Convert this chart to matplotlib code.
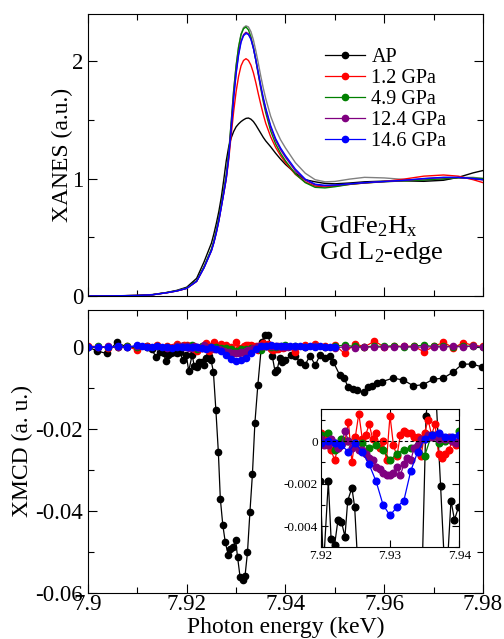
"""
XANES / XMCD at the Gd L2-edge of GdFe2Hx under pressure
"""
import matplotlib
matplotlib.use("Agg")
import matplotlib.pyplot as plt
from matplotlib.ticker import MultipleLocator, FormatStrFormatter

plt.rcParams['font.family'] = ['Liberation Serif', 'DejaVu Serif']
plt.rcParams['mathtext.fontset'] = 'custom'
plt.rcParams['mathtext.rm'] = 'Liberation Serif'
plt.rcParams['mathtext.default'] = 'regular'
plt.rcParams['axes.unicode_minus'] = False

# ---- XANES (top) ----
xanes_e = [7.900, 7.905, 7.910, 7.913, 7.916, 7.918, 7.920, 7.922, 7.9235, 7.925,
           7.9255, 7.926, 7.9265, 7.927, 7.9275, 7.928, 7.9285, 7.929, 7.9295, 7.930,
           7.9305, 7.931, 7.9315, 7.932, 7.9325, 7.933, 7.9335, 7.934, 7.9345, 7.935,
           7.9355, 7.936, 7.937, 7.938, 7.939, 7.940, 7.942, 7.944, 7.946, 7.948,
           7.950, 7.953, 7.956, 7.960, 7.964, 7.968, 7.972, 7.975, 7.978, 7.980]
xanes_ap = [0.000, 0.001, 0.005, 0.012, 0.030, 0.048, 0.075, 0.150, 0.290, 0.450,
            0.530, 0.620, 0.720, 0.840, 0.990, 1.150, 1.270, 1.345, 1.400, 1.440,
            1.465, 1.485, 1.500, 1.512, 1.515, 1.505, 1.485, 1.455, 1.420, 1.385,
            1.350, 1.320, 1.270, 1.215, 1.165, 1.120, 1.045, 0.990, 0.972, 0.958,
            0.955, 0.962, 0.972, 0.978, 0.980, 0.976, 0.985, 1.010, 1.048, 1.068]
xanes_p12 = [0.000, 0.001, 0.004, 0.010, 0.028, 0.043, 0.065, 0.125, 0.245, 0.390,
             0.460, 0.545, 0.645, 0.760, 0.875, 0.995, 1.160, 1.370, 1.570, 1.740,
             1.870, 1.960, 2.005, 2.020, 2.005, 1.965, 1.900, 1.815, 1.720, 1.630,
             1.545, 1.470, 1.355, 1.265, 1.195, 1.135, 1.035, 0.970, 0.935, 0.928,
             0.935, 0.950, 0.962, 0.975, 0.995, 1.020, 1.030, 1.020, 0.990, 0.965]
xanes_p49 = [0.000, 0.001, 0.004, 0.010, 0.030, 0.045, 0.068, 0.130, 0.250, 0.400,
             0.470, 0.560, 0.660, 0.780, 0.900, 1.030, 1.220, 1.480, 1.750, 1.960,
             2.120, 2.225, 2.275, 2.290, 2.265, 2.205, 2.115, 2.005, 1.885, 1.765,
             1.655, 1.560, 1.405, 1.295, 1.215, 1.150, 1.040, 0.965, 0.925, 0.920,
             0.930, 0.950, 0.962, 0.972, 0.980, 0.988, 0.998, 1.005, 1.003, 1.000]
xanes_p124 = [0.000, 0.001, 0.004, 0.010, 0.028, 0.043, 0.065, 0.125, 0.240, 0.385,
              0.455, 0.540, 0.640, 0.760, 0.880, 1.005, 1.190, 1.440, 1.700, 1.905,
              2.065, 2.170, 2.225, 2.245, 2.232, 2.190, 2.110, 2.005, 1.890, 1.780,
              1.675, 1.585, 1.435, 1.325, 1.245, 1.180, 1.065, 0.985, 0.945, 0.937,
              0.942, 0.953, 0.963, 0.973, 0.983, 0.998, 1.008, 1.008, 0.998, 0.988]
xanes_p146 = [0.000, 0.001, 0.004, 0.010, 0.028, 0.043, 0.065, 0.125, 0.240, 0.385,
              0.455, 0.540, 0.640, 0.755, 0.875, 1.000, 1.180, 1.420, 1.680, 1.890,
              2.050, 2.160, 2.215, 2.235, 2.225, 2.185, 2.110, 2.010, 1.900, 1.790,
              1.690, 1.600, 1.450, 1.340, 1.260, 1.195, 1.080, 0.995, 0.952, 0.942,
              0.945, 0.955, 0.965, 0.975, 0.985, 1.000, 1.010, 1.010, 1.000, 0.990]
xanes_grey = [0.000, 0.001, 0.004, 0.010, 0.028, 0.043, 0.065, 0.125, 0.245, 0.395,
              0.465, 0.555, 0.655, 0.775, 0.895, 1.020, 1.210, 1.470, 1.740, 1.960,
              2.120, 2.230, 2.285, 2.300, 2.290, 2.250, 2.180, 2.085, 1.980, 1.870,
              1.770, 1.680, 1.530, 1.420, 1.330, 1.260, 1.135, 1.045, 0.990, 0.972,
              0.975, 0.995, 1.010, 1.005, 0.992, 0.985, 0.992, 1.008, 1.010, 1.000]

# ---- XMCD (bottom) ----
xmcd_ap_e = [7.9000, 7.9018, 7.9038, 7.9058, 7.9078, 7.9099, 7.9119, 7.9129, 7.9138, 7.9146,
             7.9153, 7.9158, 7.9163, 7.9169, 7.9175, 7.9180, 7.9186, 7.9192, 7.9199, 7.9204,
             7.9211, 7.9215, 7.9220, 7.9225, 7.9230, 7.9235, 7.9239, 7.9245, 7.9249, 7.9254,
             7.9259, 7.9264, 7.9268, 7.9273, 7.9278, 7.9284, 7.9288, 7.9293, 7.9299, 7.9303,
             7.9308, 7.9313, 7.9318, 7.9323, 7.9328, 7.9333, 7.9338, 7.9344, 7.9352, 7.9358,
             7.9365, 7.9373, 7.9379, 7.9383, 7.9388, 7.9393, 7.9399, 7.9412, 7.9419, 7.9429,
             7.9440, 7.9450, 7.9460, 7.9470, 7.9480, 7.9490, 7.9497, 7.9510, 7.9519, 7.9527,
             7.9537, 7.9545, 7.9558, 7.9568, 7.9575, 7.9585, 7.9595, 7.9618, 7.9639, 7.9659,
             7.9679, 7.9699, 7.9720, 7.9740, 7.9758, 7.9778, 7.9799]
xmcd_ap = [0.0000, -0.0010, -0.0016, 0.0011, 0.0000, -0.0002, 0.0001, -0.0006, -0.0025, -0.0012,
           -0.0016, -0.0035, -0.0020, -0.0016, -0.0012, -0.0015, -0.0012, -0.0032, -0.0019, -0.0059,
           -0.0019, -0.0046, -0.0049, -0.0037, -0.0038, -0.0045, -0.0028, -0.0022, -0.0031, -0.0061,
           -0.0154, -0.0256, -0.0370, -0.0434, -0.0476, -0.0507, -0.0493, -0.0489, -0.0472, -0.0513,
           -0.0561, -0.0569, -0.0559, -0.0501, -0.0402, -0.0311, -0.0186, -0.0093, 0.0012, 0.0030,
           0.0030, -0.0021, -0.0061, -0.0057, -0.0028, -0.0037, -0.0031, -0.0020, -0.0021, -0.0037,
           -0.0043, -0.0021, -0.0045, -0.0020, -0.0028, -0.0021, -0.0037, -0.0069, -0.0077, -0.0098,
           -0.0103, -0.0106, -0.0111, -0.0098, -0.0095, -0.0089, -0.0085, -0.0076, -0.0081, -0.0095,
           -0.0092, -0.0079, -0.0076, -0.0061, -0.0042, -0.0042, -0.0049]

xmcd_p12_e = [7.900, 7.902, 7.904, 7.906, 7.908, 7.910, 7.912, 7.914, 7.916, 7.918,
              7.9190, 7.9195, 7.9200, 7.9205, 7.9210, 7.9215, 7.9220, 7.9225, 7.9230, 7.9235,
              7.9240, 7.9245, 7.9250, 7.9255, 7.9260, 7.9265, 7.9270, 7.9275, 7.9280, 7.9285,
              7.9290, 7.9295, 7.9300, 7.9305, 7.9310, 7.9315, 7.9320, 7.9325, 7.9330, 7.9335,
              7.9340, 7.9345, 7.9350, 7.9355, 7.9360, 7.9365, 7.9370, 7.9375, 7.9380, 7.9385,
              7.9390, 7.9395, 7.9400, 7.942, 7.944, 7.946, 7.948, 7.950, 7.952, 7.954,
              7.956, 7.958, 7.960, 7.962, 7.964, 7.966, 7.968, 7.970, 7.972, 7.974,
              7.976, 7.978, 7.980]
xmcd_p12 = [0.0003, 0.0000, -0.0002, 0.0000, 0.0001, -0.0008, 0.0002, 0.0004, 0.0003, 0.0008,
            0.0002, 0.0004, 0.0004, 0.0001, 0.0000, -0.0004, -0.0009, -0.0003, -0.0002, 0.0000,
            0.0009, -0.0010, 0.0002, 0.0013, 0.0001, 0.0003, 0.0008, 0.0001, 0.0004, -0.0003,
            0.0000, -0.0009, 0.0012, -0.0002, -0.0007, 0.0003, 0.0005, 0.0004, 0.0004, 0.0002,
            0.0002, -0.0007, 0.0004, 0.0010, 0.0003, 0.0008, -0.0006, -0.0008, -0.0006, -0.0004,
            0.0000, -0.0002, 0.0000, -0.0012, 0.0004, 0.0006, 0.0002, 0.0004, -0.0016, 0.0008,
            0.0000, 0.0014, 0.0000, 0.0002, 0.0001, 0.0002, -0.0012, 0.0001, 0.0011, -0.0002,
            0.0010, 0.0004, 0.0001]

xmcd_p49_e = [7.900, 7.902, 7.904, 7.906, 7.908, 7.910, 7.912, 7.914, 7.916, 7.918,
              7.919, 7.920, 7.921, 7.922, 7.923, 7.924, 7.925, 7.926, 7.927, 7.928,
              7.929, 7.930, 7.931, 7.932, 7.933, 7.934, 7.935, 7.936, 7.937, 7.938,
              7.939, 7.940, 7.942, 7.944, 7.946, 7.948, 7.950, 7.952, 7.954, 7.956,
              7.958, 7.960, 7.962, 7.964, 7.966, 7.968, 7.970, 7.972, 7.974, 7.976,
              7.978, 7.980]
xmcd_p49 = [0.0000, 0.0001, -0.0001, 0.0000, 0.0001, 0.0000, -0.0001, 0.0002, 0.0000, 0.0001,
            0.0002, 0.0003, 0.0004, -0.0004, 0.0001, 0.0000, -0.0001, -0.0001, -0.0003, -0.0002,
            -0.0004, -0.0009, -0.0006, -0.0004, -0.0003, -0.0002, -0.0007, 0.0003, -0.0001, 0.0000,
            0.0001, 0.0005, 0.0002, 0.0000, 0.0003, -0.0001, 0.0002, 0.0004, 0.0001, 0.0000,
            0.0002, 0.0001, 0.0003, -0.0001, 0.0002, 0.0004, 0.0001, 0.0002, 0.0000, 0.0003,
            0.0001, 0.0000]

xmcd_p124_e = [7.900, 7.902, 7.904, 7.906, 7.908, 7.910, 7.912, 7.914, 7.916, 7.918,
               7.9190, 7.9195, 7.9200, 7.9205, 7.9210, 7.9215, 7.9220, 7.9225, 7.9230, 7.9235,
               7.9240, 7.9245, 7.9250, 7.9255, 7.9260, 7.9265, 7.9270, 7.9275, 7.9280, 7.9285,
               7.9290, 7.9295, 7.9300, 7.9305, 7.9310, 7.9315, 7.9320, 7.9325, 7.9330, 7.9335,
               7.9340, 7.9345, 7.9350, 7.9355, 7.9360, 7.9365, 7.9370, 7.9375, 7.9380, 7.9385,
               7.9390, 7.9395, 7.9400, 7.9405, 7.942, 7.944, 7.946, 7.948, 7.950, 7.952,
               7.954, 7.956, 7.958, 7.960, 7.962, 7.964, 7.966, 7.968, 7.970, 7.972,
               7.974, 7.976, 7.978, 7.980]
xmcd_p124 = [0.0000, 0.0000, 0.0001, -0.0001, 0.0000, 0.0002, 0.0000, 0.0001, -0.0002, 0.0001,
             0.0002, 0.0000, 0.0001, -0.0002, -0.0002, 0.0001, -0.0001, -0.0003, -0.0002, 0.0005,
             0.0000, -0.0003, -0.0002, -0.0004, -0.0004, -0.0006, -0.0008, -0.0009, -0.0012, -0.0013,
             -0.0015, -0.0016, -0.0016, -0.0015, -0.0012, -0.0016, -0.0011, -0.0008, -0.0009, -0.0003,
             -0.0002, 0.0001, 0.0001, 0.0003, 0.0002, 0.0003, 0.0001, 0.0002, 0.0001, 0.0002,
             0.0000, -0.0001, 0.0000, -0.0001, 0.0000, -0.0001, 0.0001, 0.0000, -0.0002, 0.0000,
             -0.0002, 0.0000, -0.0001, 0.0000, 0.0000, 0.0001, -0.0001, 0.0000, 0.0000, 0.0000,
             0.0001, 0.0000, 0.0002, 0.0000]

xmcd_p146_e = [7.900, 7.902, 7.904, 7.906, 7.908, 7.910, 7.911, 7.912, 7.913, 7.914,
               7.915, 7.916, 7.917, 7.918, 7.919, 7.920, 7.921, 7.922, 7.923, 7.924,
               7.925, 7.926, 7.927, 7.928, 7.929, 7.930, 7.931, 7.932, 7.933, 7.934,
               7.935, 7.936, 7.937, 7.938, 7.939, 7.940, 7.941, 7.942, 7.943, 7.944,
               7.945, 7.946, 7.947, 7.948, 7.949, 7.950]
xmcd_p146 = [0.0000, 0.0000, -0.0001, 0.0001, -0.0001, 0.0004, 0.0001, 0.0000, 0.0000, 0.0001,
             -0.0001, 0.0000, -0.0002, 0.0000, -0.0001, -0.0001, 0.0000, -0.0001, -0.0002, -0.0005,
             -0.0001, -0.0005, -0.0011, -0.0019, -0.0030, -0.0035, -0.0031, -0.0028, -0.0014, -0.0005,
             0.0001, 0.0003, 0.0004, 0.0002, 0.0002, 0.0003, 0.0002, 0.0001, 0.0001, 0.0000,
             0.0001, 0.0000, 0.0001, 0.0000, 0.0000, 0.0000]

labels = ['AP', '1.2 GPa', '4.9 GPa', '12.4 GPa', '14.6 GPa']
colors = ['black', '#ff0000', '#008000', '#800080', '#0000ff']

fig = plt.figure(figsize=(5.04, 6.39), dpi=100)
ax1 = fig.add_axes([0.1746, 0.5368, 0.7837, 0.4412])
ax2 = fig.add_axes([0.1746, 0.0720, 0.7837, 0.4429])
axin = fig.add_axes([0.6363, 0.1435, 0.2750, 0.2160])

# top panel
ax1.plot(xanes_e, xanes_grey, color='#808080', lw=1.0)
for ys, c in zip([xanes_ap, xanes_p12, xanes_p49, xanes_p124, xanes_p146], colors):
    ax1.plot(xanes_e, ys, color=c, lw=1.0)
ax1.set_xlim(7.9, 7.98)
ax1.set_ylim(0, 2.4)
ax1.set_ylabel('XANES (a.u.)', fontsize=17)
ax1.yaxis.set_label_coords(-0.037, 0.5)
ax1.text(0.585, 0.245, 'GdFe$_2$H$_x$', transform=ax1.transAxes, fontsize=19, va='center')
ax1.text(0.585, 0.152, 'Gd L$_2$-edge', transform=ax1.transAxes, fontsize=19, va='center')

# bottom panel
xmcd_sets = [(xmcd_ap_e, xmcd_ap), (xmcd_p12_e, xmcd_p12), (xmcd_p49_e, xmcd_p49),
             (xmcd_p124_e, xmcd_p124), (xmcd_p146_e, xmcd_p146)]
handles = []
for (ex, ys), c, lab in zip(xmcd_sets, colors, labels):
    h, = ax2.plot(ex, ys, color=c, lw=0.9, marker='o', ms=4.5, mec=c, label=lab)
    handles.append(h)
    axin.plot(ex, ys, color=c, lw=0.9, marker='o', ms=4.8, mec=c)
ax2.set_xlim(7.9, 7.98)
ax2.set_ylim(-0.06, 0.009)
ax2.set_ylabel('XMCD (a. u.)', fontsize=17)
ax2.yaxis.set_label_coords(-0.14, 0.5)
ax2.set_xlabel('Photon energy (keV)', fontsize=17)
ax2.xaxis.set_label_coords(0.5, -0.085)

ax1.legend(handles, labels, loc='upper left', bbox_to_anchor=(0.6, 0.88), frameon=False,
           fontsize=14.5, labelspacing=0.1, handlelength=2.0, handletextpad=0.3,
           borderpad=0, borderaxespad=0, numpoints=1)

for ax in (ax1, ax2):
    ax.xaxis.set_major_locator(MultipleLocator(0.02))
    ax.xaxis.set_minor_locator(MultipleLocator(0.01))
    ax.xaxis.set_major_formatter(FormatStrFormatter('%g'))
    ax.yaxis.set_major_formatter(FormatStrFormatter('%g'))
    ax.tick_params(which='both', direction='in', top=True, right=True, labelsize=16.5, width=0.8)
    ax.tick_params(which='major', length=6.5)
    ax.tick_params(which='minor', length=4.3)
    ax.tick_params(axis='x', pad=1)
ax1.tick_params(labelbottom=False)
ax1.yaxis.set_major_locator(MultipleLocator(1))
ax1.yaxis.set_minor_locator(MultipleLocator(0.5))
ax2.yaxis.set_major_locator(MultipleLocator(0.02))
ax2.yaxis.set_minor_locator(MultipleLocator(0.01))

# inset
axin.axhline(0, color='black', lw=0.8, ls=(0, (3, 2)))
axin.set_xlim(7.92, 7.94)
axin.set_ylim(-0.005, 0.0015)
axin.xaxis.set_major_locator(MultipleLocator(0.01))
axin.yaxis.set_major_locator(MultipleLocator(0.002))
axin.yaxis.set_minor_locator(MultipleLocator(0.001))
axin.xaxis.set_major_formatter(FormatStrFormatter('%g'))
axin.yaxis.set_major_formatter(FormatStrFormatter('%g'))
axin.tick_params(which='both', direction='in', top=True, right=True, labelsize=9.5, width=0.8, pad=2)
axin.tick_params(which='major', length=5)
axin.tick_params(which='minor', length=3)

plt.savefig('out.png', dpi=100)
